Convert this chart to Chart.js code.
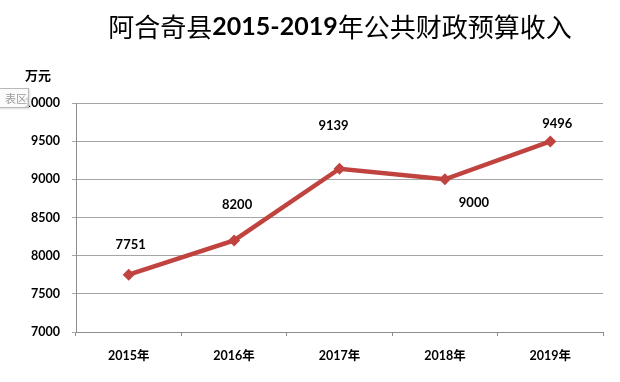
<!DOCTYPE html>
<html>
<head>
<meta charset="utf-8">
<script src="https://cdn.jsdelivr.net/npm/chart.js@4.4.0/dist/chart.umd.min.js"></script>
<style>
  html, body { margin: 0; padding: 0; background: #fff; }
  #wrap { position: relative; width: 620px; height: 382px; }
  #tip { position: absolute; left: -2px; top: 88px; width: 28px; height: 18px;
         border: 1px solid #b8b8b8; background: rgba(250,250,250,0.85);
         font: 11px "Noto Sans CJK SC", sans-serif; color: #9a9a9a;
         line-height: 18px; text-align: right; padding-right: 1px;
         box-shadow: 1px 1px 2px rgba(0,0,0,0.15); }
</style>
</head>
<body>
<div id="wrap">
  <canvas id="c" width="620" height="382"></canvas>
  <div id="tip">表区</div>
</div>
<script>
const categories = ['2015年', '2016年', '2017年', '2018年', '2019年'];
const revenue = [7751, 8200, 9139, 9000, 9496];
const yTicks = [7000, 7500, 8000, 8500, 9000, 9500, 10000];
const titleParts = [
  { text: '阿合奇县', bold: false },
  { text: '2015-2019', bold: true },
  { text: '年公共财政预算收入', bold: false }
];
const unitLabel = '万元';

const labelOffsets = [[2, -30], [3, -36], [-6, -43], [29, 23], [7, -18]];

const decor = {
  id: 'decor',
  afterDraw(chart) {
    const ctx = chart.ctx;
    ctx.save();
    const fonts = titleParts.map(p => p.bold ? 'bold 25px Lato, "Noto Sans CJK SC"' : '26px "Noto Sans CJK SC"');
    let total = 0;
    const widths = titleParts.map((p, i) => { ctx.font = fonts[i]; const w = ctx.measureText(p.text).width; total += w; return w; });
    let x = 340 - total / 2;
    ctx.fillStyle = '#000';
    ctx.textBaseline = 'middle';
    ctx.textAlign = 'left';
    titleParts.forEach((p, i) => { ctx.font = fonts[i]; ctx.fillText(p.text, x, 27); x += widths[i]; });
    ctx.font = 'bold 13px "Noto Sans CJK SC"';
    ctx.textAlign = 'center';
    ctx.fillText(unitLabel, 38, 75);
    const meta = chart.getDatasetMeta(0);
    ctx.font = 'bold 13px Lato, "Noto Sans CJK SC"';
    meta.data.forEach((pt, i) => {
      const o = labelOffsets[i];
      ctx.fillText(String(revenue[i]), pt.x + o[0], pt.y + o[1]);
    });
    ctx.restore();
  }
};

new Chart(document.getElementById('c'), {
  type: 'line',
  data: {
    labels: categories,
    datasets: [{
      data: revenue,
      borderColor: '#C0433F',
      backgroundColor: '#C0433F',
      borderWidth: 4.5,
      pointStyle: 'rectRot',
      pointRadius: 6,
      pointHoverRadius: 6,
      pointBorderWidth: 0,
      tension: 0,
      fill: false
    }]
  },
  options: {
    responsive: false,
    animation: false,
    events: [],
    layout: { padding: { top: 103, right: 17, bottom: 0, left: 0 } },
    plugins: { legend: { display: false }, tooltip: { enabled: false }, title: { display: false } },
    scales: {
      x: {
        offset: true,
        afterFit(s) { s.height = 50; },
        grid: { offset: true, drawOnChartArea: false, drawTicks: true, tickLength: 4, color: '#8c8c8c' },
        border: { color: '#8c8c8c', width: 1 },
        ticks: { color: '#000', padding: 12, font: { family: 'Lato, "Noto Sans CJK SC"', size: 12.5, weight: 'bold' } }
      },
      y: {
        min: 7000, max: 10000,
        afterFit(s) { s.width = 76; },
        afterBuildTicks(s) { s.ticks = yTicks.map(v => ({ value: v })); },
        grid: { color: '#a6a6a6', tickLength: 4, lineWidth: 1 },
        border: { color: '#8c8c8c', width: 1 },
        ticks: { color: '#000', padding: 12, callback: v => String(v), font: { family: 'Lato', size: 12.5, weight: 'bold' } }
      }
    }
  },
  plugins: [decor]
});
</script>
</body>
</html>
